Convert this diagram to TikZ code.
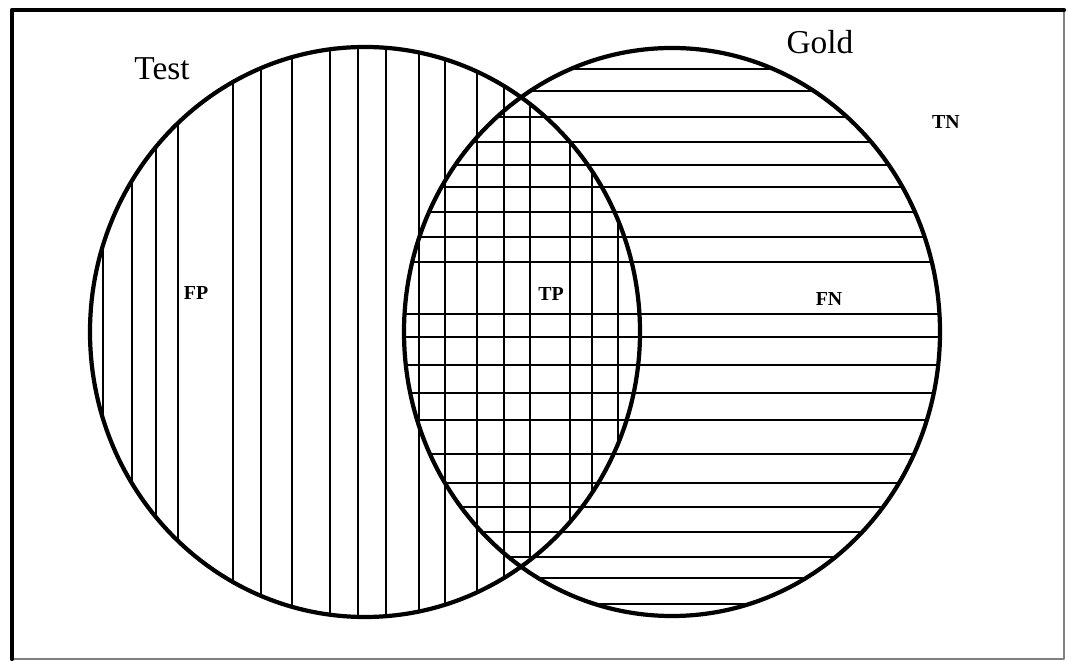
\documentclass[tikz,border=0pt]{standalone}
\usepackage{fontspec}
\setmainfont{Liberation Serif}
\tikzset{
  every picture/.style={line join=round, line cap=round},
  ring/.style={line width=2.4pt},
  hatch/.style={line width=1.45pt},
  setname/.style={font=\fontsize{19}{22}\selectfont, anchor=base, inner sep=0pt},
  cell/.style={font=\bfseries\fontsize{11.3}{13}\selectfont, anchor=base, inner sep=0pt},
}

\begin{document}
\begin{tikzpicture}[x=0.02cm,y=-0.02cm]
\useasboundingbox (0,0) rectangle (1068,661);
\coordinate (testc) at (365,332);
\coordinate (goldc) at (672,332);
% frame
\draw[gray,line width=0.8pt](12,10) rectangle (1064,659);
\draw[line width=2.4pt](12,659)--(12,10)--(1064,10);
% vertical hatching in Test
\begin{scope}
\clip (testc) ellipse[x radius=275,y radius=285];
\foreach \x in {103,132,156,178,233,261,292,330,358,386,419,445,477,504,530,570,592,618}
  \draw[hatch](\x,40)--(\x,625);
\end{scope}
% horizontal hatching in Gold
\begin{scope}
\clip (goldc) ellipse[x radius=268,y radius=284];
\foreach \y in {69,91,117,142,165,187,212,237,262,314,337,365,393,420,454,483,507,532,557,578,604}
  \draw[hatch](395,\y)--(950,\y);
\end{scope}
\draw[ring](testc) ellipse[x radius=275,y radius=285];
\draw[ring](goldc) ellipse[x radius=268,y radius=284];
% labels
\node[setname] (test) at (162,80) {Test};
\node[setname] (gold) at (820,54) {Gold};
\node[cell] (fp) at (196,300) {FP};
\node[cell] (tp) at (551,301) {TP};
\node[cell] (fn) at (829,306) {FN};
\node[cell] (tn) at (946,129) {TN};
\end{tikzpicture}
\end{document}
